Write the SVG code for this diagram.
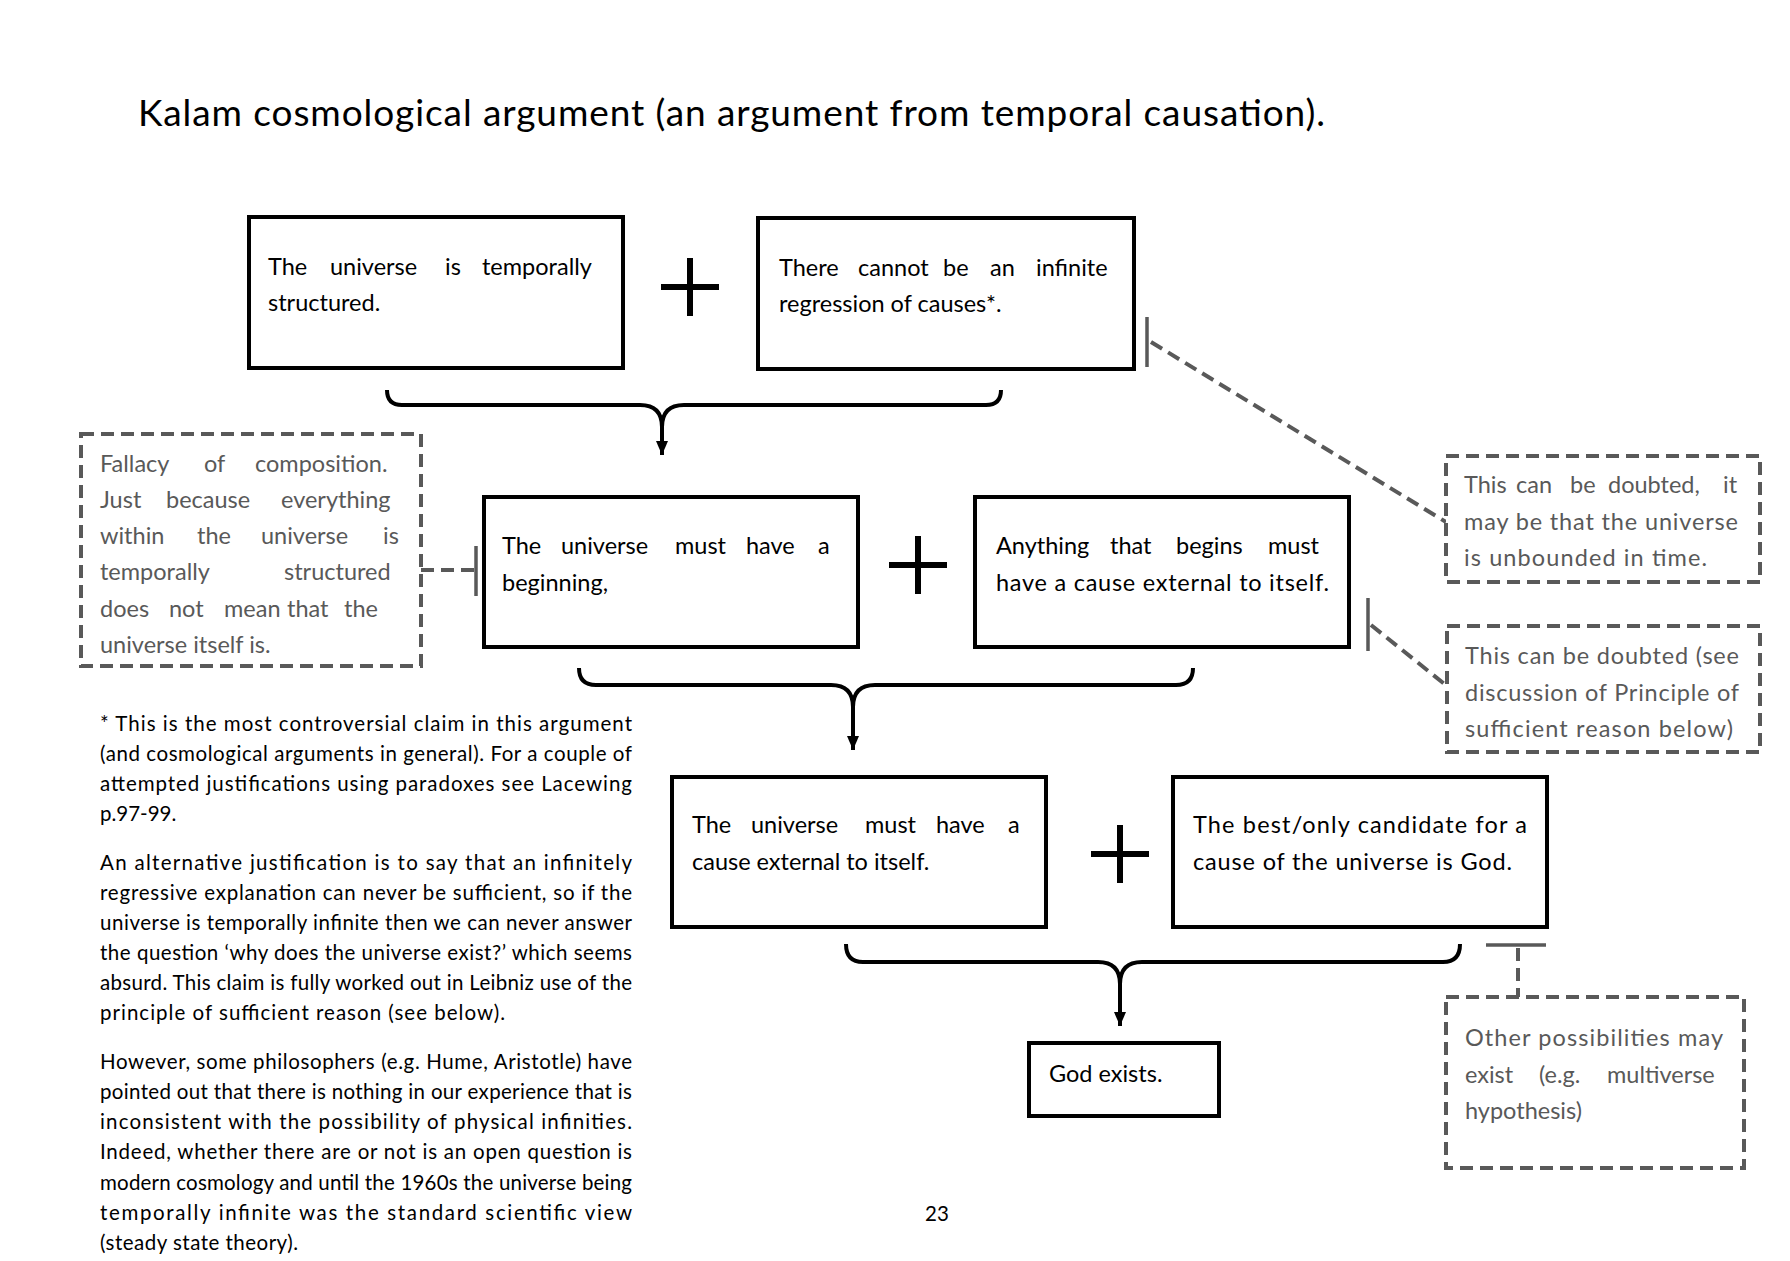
<svg xmlns="http://www.w3.org/2000/svg" width="1790" height="1261" viewBox="0 0 1790 1261">
<style>
.t{font-family:Lato,"Liberation Sans",sans-serif;fill:#000}
.bx{font-size:23.5px}
.gt{font-family:Lato,"Liberation Sans",sans-serif;font-size:23.5px;fill:#595959}
.fn{font-family:Lato,"Liberation Sans",sans-serif;font-size:20.5px;fill:#000}
.box{fill:#fff;stroke:#000;stroke-width:4}
.gbox{fill:#fff;stroke:#595959;stroke-width:4;stroke-dasharray:13 7}
.dash{fill:none;stroke:#595959;stroke-width:4;stroke-dasharray:13 7}
.bar{fill:none;stroke:#595959;stroke-width:3.5}
.brace{fill:none;stroke:#000;stroke-width:4}
.plus{stroke:#000;stroke-width:6}
</style>
<defs>
<marker id="ah" markerWidth="10" markerHeight="10" refX="0" refY="5" orient="auto" markerUnits="userSpaceOnUse" viewBox="0 0 10 10">
<path d="M0,0 L10,5 L0,10 z" fill="#000"/>
</marker>
<marker id="arr" viewBox="0 0 14 12" refX="14" refY="6" markerWidth="14" markerHeight="12" orient="auto" markerUnits="userSpaceOnUse">
<path d="M0,0 L14,6 L0,12 z" fill="#000"/>
</marker>
</defs>
<rect width="1790" height="1261" fill="#fff"/>
<text class="t" x="138" y="126" font-size="37" textLength="1187" lengthAdjust="spacing">Kalam cosmological argument (an argument from temporal causation).</text>

<g id="connectors">
<path class="brace" d="M387,390 Q387,405 402,405 L640,405 Q662,405 662,427 Q662,405 684,405 L986,405 Q1001,405 1001,390"/>
<line class="brace" x1="662" y1="425" x2="662" y2="455" marker-end="url(#arr)"/>
<path class="brace" d="M579,668 Q579,685 596,685 L831,685 Q853,685 853,707 Q853,685 875,685 L1176,685 Q1193,685 1193,668"/>
<line class="brace" x1="853" y1="705" x2="853" y2="750" marker-end="url(#arr)"/>
<path class="brace" d="M846,944 Q846,962 863,962 L1098,962 Q1120,962 1120,984 Q1120,962 1142,962 L1443,962 Q1460,962 1460,944"/>
<line class="brace" x1="1120" y1="982" x2="1120" y2="1026" marker-end="url(#arr)"/>
<line class="dash" x1="421" y1="570" x2="474" y2="570"/>
<line class="bar" x1="476" y1="546" x2="476" y2="596"/>
<line class="bar" x1="1147" y1="317" x2="1147" y2="367"/>
<line class="dash" x1="1151" y1="342" x2="1446" y2="522"/>
<line class="bar" x1="1368" y1="598" x2="1368" y2="651"/>
<line class="dash" x1="1371" y1="625" x2="1447" y2="686"/>
<line class="bar" x1="1486" y1="945" x2="1546" y2="945" stroke-width="5"/>
<line class="dash" x1="1518" y1="948" x2="1518" y2="997"/>
</g>

<g id="plus1"><line class="plus" x1="690" y1="258" x2="690" y2="316"/><line class="plus" x1="661" y1="287" x2="719" y2="287"/></g>
<g id="plus2"><line class="plus" x1="918" y1="536" x2="918" y2="594"/><line class="plus" x1="889" y1="565" x2="947" y2="565"/></g>
<g id="plus3"><line class="plus" x1="1120" y1="825" x2="1120" y2="883"/><line class="plus" x1="1091" y1="854" x2="1149" y2="854"/></g>

<g id="box1">
<rect class="box" x="249" y="217" width="374" height="151"/>
<text class="t bx" y="275"><tspan x="268">The</tspan><tspan x="330">universe</tspan><tspan x="445">is</tspan><tspan x="482">temporally</tspan></text>
<text class="t bx" x="268" y="311">structured.</text>
</g>
<g id="box2">
<rect class="box" x="758" y="218" width="376" height="151"/>
<text class="t bx" y="276"><tspan x="779">There</tspan><tspan x="858">cannot</tspan><tspan x="943">be</tspan><tspan x="990">an</tspan><tspan x="1036">infinite</tspan></text>
<text class="t bx" x="779" y="312">regression of causes*.</text>
</g>
<g id="box3">
<rect class="box" x="484" y="497" width="374" height="150"/>
<text class="t bx" y="554"><tspan x="502">The</tspan><tspan x="561">universe</tspan><tspan x="675">must</tspan><tspan x="746">have</tspan><tspan x="818">a</tspan></text>
<text class="t bx" x="502" y="591">beginning,</text>
</g>
<g id="box4">
<rect class="box" x="975" y="497" width="374" height="150"/>
<text class="t bx" y="554"><tspan x="996">Anything</tspan><tspan x="1110">that</tspan><tspan x="1176">begins</tspan><tspan x="1268">must</tspan></text>
<text class="t bx" x="996" y="591" textLength="333" lengthAdjust="spacing">have a cause external to itself.</text>
</g>
<g id="box5">
<rect class="box" x="672" y="777" width="374" height="150"/>
<text class="t bx" y="833"><tspan x="692">The</tspan><tspan x="751">universe</tspan><tspan x="865">must</tspan><tspan x="936">have</tspan><tspan x="1008">a</tspan></text>
<text class="t bx" x="692" y="870">cause external to itself.</text>
</g>
<g id="box6">
<rect class="box" x="1173" y="777" width="374" height="150"/>
<text class="t bx" x="1193" y="833" textLength="334" lengthAdjust="spacing">The best/only candidate for a</text>
<text class="t bx" x="1193" y="870" textLength="319" lengthAdjust="spacing">cause of the universe is God.</text>
</g>
<g id="box7">
<rect class="box" x="1029" y="1043" width="190" height="73"/>
<text class="t bx" x="1049" y="1082">God exists.</text>
</g>

<g id="note-left">
<rect class="gbox" x="81" y="434" width="340" height="232"/>
<text class="gt" y="472"><tspan x="100">Fallacy</tspan><tspan x="204">of</tspan><tspan x="255">composition.</tspan></text>
<text class="gt" y="508"><tspan x="100">Just</tspan><tspan x="166">because</tspan><tspan x="281">everything</tspan></text>
<text class="gt" y="544"><tspan x="100">within</tspan><tspan x="197">the</tspan><tspan x="261">universe</tspan><tspan x="383">is</tspan></text>
<text class="gt" y="580"><tspan x="100">temporally</tspan><tspan x="284">structured</tspan></text>
<text class="gt" y="617"><tspan x="100">does</tspan><tspan x="169">not</tspan><tspan x="224">mean</tspan><tspan x="287">that</tspan><tspan x="344">the</tspan></text>
<text class="gt" x="100" y="653">universe itself is.</text>
</g>
<g id="note-right1">
<rect class="gbox" x="1446" y="456" width="314" height="126"/>
<text class="gt" y="493"><tspan x="1464">This</tspan><tspan x="1516">can</tspan><tspan x="1570">be</tspan><tspan x="1608">doubted,</tspan><tspan x="1723">it</tspan></text>
<text class="gt" x="1464" y="530" textLength="274" lengthAdjust="spacing">may be that the universe</text>
<text class="gt" x="1464" y="566" textLength="243" lengthAdjust="spacing">is unbounded in time.</text>
</g>
<g id="note-right2">
<rect class="gbox" x="1447" y="626" width="313" height="126"/>
<text class="gt" x="1465" y="664" textLength="274" lengthAdjust="spacing">This can be doubted (see</text>
<text class="gt" x="1465" y="701" textLength="274" lengthAdjust="spacing">discussion of Principle of</text>
<text class="gt" x="1465" y="737" textLength="268" lengthAdjust="spacing">sufficient reason below)</text>
</g>
<g id="note-right3">
<rect class="gbox" x="1446" y="997" width="298" height="171"/>
<text class="gt" x="1465" y="1046" textLength="258" lengthAdjust="spacing">Other possibilities may</text>
<text class="gt" y="1083"><tspan x="1465">exist</tspan><tspan x="1539">(e.g.</tspan><tspan x="1607">multiverse</tspan></text>
<text class="gt" x="1465" y="1119">hypothesis)</text>
</g>

<g id="footnote">
<text class="fn" x="100" y="731" textLength="532" lengthAdjust="spacing">* This is the most controversial claim in this argument</text>
<text class="fn" x="100" y="761" textLength="532" lengthAdjust="spacing">(and cosmological arguments in general). For a couple of</text>
<text class="fn" x="100" y="791" textLength="532" lengthAdjust="spacing">attempted justifications using paradoxes see Lacewing</text>
<text class="fn" x="100" y="821">p.97-99.</text>
<text class="fn" x="100" y="870" textLength="532" lengthAdjust="spacing">An alternative justification is to say that an infinitely</text>
<text class="fn" x="100" y="900" textLength="532" lengthAdjust="spacing">regressive explanation can never be sufficient, so if the</text>
<text class="fn" x="100" y="930" textLength="532" lengthAdjust="spacing">universe is temporally infinite then we can never answer</text>
<text class="fn" x="100" y="960" textLength="532" lengthAdjust="spacing">the question ‘why does the universe exist?’ which seems</text>
<text class="fn" x="100" y="990" textLength="532" lengthAdjust="spacing">absurd. This claim is fully worked out in Leibniz use of the</text>
<text class="fn" x="100" y="1020" textLength="405" lengthAdjust="spacing">principle of sufficient reason (see below).</text>
<text class="fn" x="100" y="1069" textLength="532" lengthAdjust="spacing">However, some philosophers (e.g. Hume, Aristotle) have</text>
<text class="fn" x="100" y="1099" textLength="532" lengthAdjust="spacing">pointed out that there is nothing in our experience that is</text>
<text class="fn" x="100" y="1129" textLength="532" lengthAdjust="spacing">inconsistent with the possibility of physical infinities.</text>
<text class="fn" x="100" y="1159" textLength="532" lengthAdjust="spacing">Indeed, whether there are or not is an open question is</text>
<text class="fn" x="100" y="1190" textLength="532" lengthAdjust="spacing">modern cosmology and until the 1960s the universe being</text>
<text class="fn" x="100" y="1220" textLength="532" lengthAdjust="spacing">temporally infinite was the standard scientific view</text>
<text class="fn" x="100" y="1250" textLength="198" lengthAdjust="spacing">(steady state theory).</text>
</g>
<text class="fn" x="937" y="1221" text-anchor="middle">23</text>
</svg>
